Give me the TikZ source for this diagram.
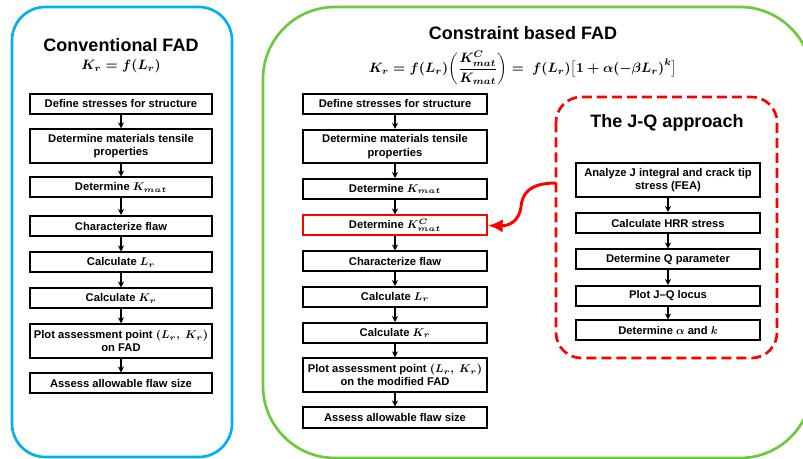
\RequirePackage{fix-cm}
\documentclass[tikz,border=0pt]{standalone}
\usepackage{amsmath}
\usepackage{bm}
\usepackage{fontspec}
\setmainfont{Liberation Sans}
\usetikzlibrary{arrows.meta}
\definecolor{bluebox}{RGB}{0,176,240}
\definecolor{greenbox}{RGB}{110,200,60}
\definecolor{redx}{RGB}{255,0,0}
\tikzset{
  bx/.style={draw=black, line width=1.5pt, minimum width=137pt, minimum height=15pt,
    inner sep=0pt, align=center, font=\fontsize{8.4}{10}\selectfont\bfseries\boldmath},
  bxtwo/.style={bx, minimum height=25pt},
  ttl/.style={inner sep=0pt, font=\fontsize{13.5}{16}\selectfont\bfseries},
  frm/.style={inner sep=0pt, font=\boldmath\fontsize{10.2}{12}\selectfont},
  arr/.style={-{Stealth[length=4.5pt,width=4.5pt]}, line width=1.1pt, black},
}
\begin{document}
\begin{tikzpicture}[x=0.75pt,y=-0.75pt]
\useasboundingbox (0,0) rectangle (803,459);
\fill[white] (0,0) rectangle (803,459);
% frames
\draw[bluebox, line width=2pt, rounded corners=25pt] (12,7) rectangle (232,457);
\draw[greenbox, line width=2pt, rounded corners=54pt] (263,7) rectangle (812,458);
\draw[redx, line width=2pt, dash pattern=on 7.5pt off 3.75pt, rounded corners=19pt] (556,97) rectangle (777,358);

% titles
\node[ttl] (t1) at (121,45) {Conventional FAD};
\node[frm] (f1) at (121,66) {$\bm{K_r = f(L_r)}$};
\node[ttl] (t2) at (523,33) {Constraint based FAD};
\node[frm] (f2) at (523,68) {$\bm{\displaystyle K_r = f(L_r)\biggl(\frac{K^C_{mat}}{K_{mat}}\biggr) =\ f(L_r)\bigl[1+\alpha(-\beta L_r)^k\bigr]}$};
\node[ttl] (t3) at (667,123) {The J-Q approach};

% left column
\node[bx] (L1) at (121,104) {Define stresses for structure};
\node[bxtwo] (L2) at (121,146) {Determine materials tensile\\properties};
\node[bx] (L3) at (121,187.5) {Determine $K_{mat}$};
\node[bx] (L4) at (121,226) {Characterize flaw};
\node[bx] (L5) at (121,262.5) {Calculate $L_r$};
\node[bx] (L6) at (121,298.5) {Calculate $K_r$};
\node[bxtwo] (L7) at (121,341) {Plot assessment point $(L_r,\ K_r)$\\on FAD};
\node[bx] (L8) at (121,383.5) {Assess allowable flaw size};
\foreach \a/\b in {L1/L2,L2/L3,L3/L4,L4/L5,L5/L6,L6/L7,L7/L8}
  \draw[arr] (\a.south) -- (\b.north);

% middle column
\node[bx, minimum width=138pt] (M1) at (395,104) {Define stresses for structure};
\node[bxtwo, minimum width=138pt] (M2) at (395,146.5) {Determine materials tensile\\properties};
\node[bx, minimum width=138pt] (M3) at (395,189) {Determine $K_{mat}$};
\node[bx, minimum width=138pt, draw=redx] (M4) at (395,225.5) {Determine $K^C_{mat}$};
\node[bx, minimum width=138pt] (M5) at (395,261.5) {Characterize flaw};
\node[bx, minimum width=138pt] (M6) at (395,297) {Calculate $L_r$};
\node[bx, minimum width=138pt] (M7) at (395,333) {Calculate $K_r$};
\node[bxtwo, minimum width=138pt] (M8) at (395,375) {Plot assessment point $(L_r,\ K_r)$\\on the modified FAD};
\node[bx, minimum width=138pt] (M9) at (395,417.5) {Assess allowable flaw size};
\foreach \a/\b in {M1/M2,M2/M3,M3/M4,M4/M5,M5/M6,M6/M7,M7/M8,M8/M9}
  \draw[arr] (\a.south) -- (\b.north);

% J-Q column
\node[bxtwo, minimum width=138pt] (J1) at (668,180) {Analyze J integral and crack tip\\stress (FEA)};
\node[bx, minimum width=138pt] (J2) at (668,223) {Calculate HRR stress};
\node[bx, minimum width=138pt] (J3) at (668,259.5) {Determine Q parameter};
\node[bx, minimum width=138pt] (J4) at (668,296) {Plot J--Q locus};
\node[bx, minimum width=138pt] (J5) at (668,330.5) {Determine $\alpha$ and $k$};
\foreach \a/\b in {J1/J2,J2/J3,J3/J4,J4/J5}
  \draw[arr] (\a.south) -- (\b.north);

% red curved arrow
\coordinate (jqs) at (556,183);
\draw[redx, line width=2.2pt, -{Latex[length=11pt,width=10pt]}]
  (jqs) .. controls (528,183) and (522,195) .. (521,207)
        .. controls (519,222) and (508,226) .. (M4.east);
\end{tikzpicture}
\end{document}
